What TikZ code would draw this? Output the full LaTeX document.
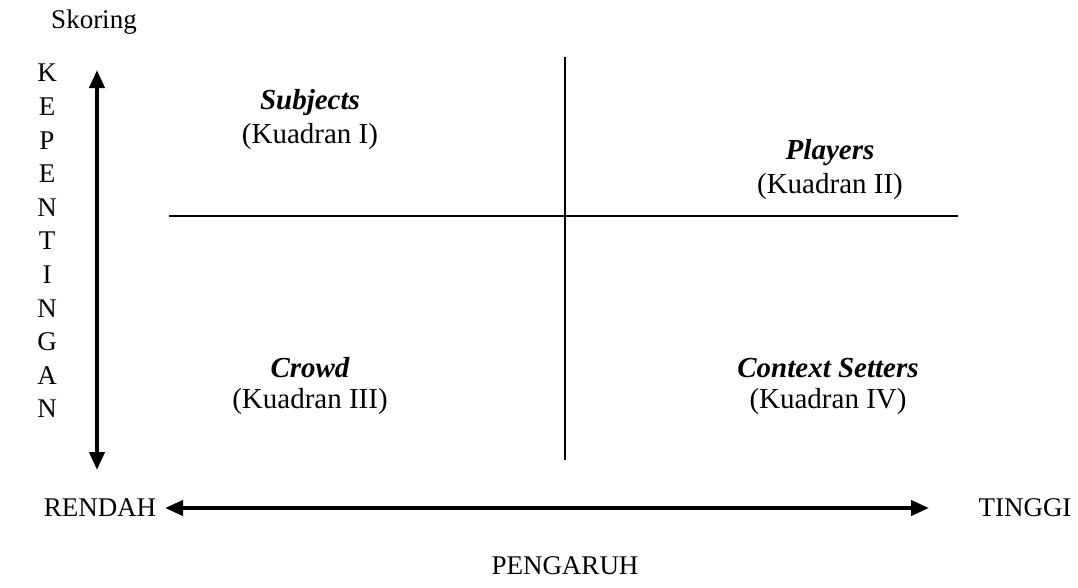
\documentclass[tikz,border=0pt]{standalone}
\usepackage{fontspec}
\setmainfont{Liberation Serif}
\usetikzlibrary{arrows.meta}
\begin{document}
\begin{tikzpicture}[x=1pt,y=-1pt,
  lbl/.style={font=\fontsize{27}{30}\selectfont, inner sep=0pt, anchor=center},
  qlbl/.style={font=\fontsize{29}{32}\selectfont, inner sep=0pt, anchor=center},
  ttl/.style={font=\fontsize{29}{32}\selectfont\bfseries\itshape, inner sep=0pt, anchor=center},
  axis/.style={line width=4pt, {Triangle[length=18pt,width=15pt]}-{Triangle[length=18pt,width=15pt]}},
  divider/.style={line width=1.5pt}]
\useasboundingbox (0,0) rectangle (1078,587);
% labels
\node[lbl] (skor) at (94,22) {Skoring};
\foreach \c [count=\i from 0] in {K,E,P,E,N,T,I,N,G,A,N}{
  \node[lbl] (v\i) at (47,{73+\i*33.6}) {\c};
}
\node[lbl] (rendah) at (100,508) {RENDAH};
\node[lbl] (tinggi) at (1025,508) {TINGGI};
\node[lbl] (pengaruh) at (565,566) {PENGARUH};
% axes
\coordinate (vt) at (97,70);
\coordinate (vb) at (97,470);
\coordinate (hl) at (165,508);
\coordinate (hr) at (929,508);
\draw[axis] (vb) -- (vt);
\draw[axis] (hl) -- (hr);
% dividers
\coordinate (mt) at (565,57);
\coordinate (mb) at (565,460);
\coordinate (ml) at (169,216);
\coordinate (mr) at (958,216);
\draw[divider] (mt) -- (mb);
\draw[divider] (ml) -- (mr);
% quadrants
\node[ttl] (q1t) at (310,103) {Subjects};
\node[qlbl] (q1s) at (310,137) {(Kuadran I)};
\node[ttl] (q2t) at (830,153) {Players};
\node[qlbl] (q2s) at (830,187) {(Kuadran II)};
\node[ttl] (q3t) at (310,368) {Crowd};
\node[qlbl] (q3s) at (310,402) {(Kuadran III)};
\node[ttl] (q4t) at (828,368) {Context Setters};
\node[qlbl] (q4s) at (828,402) {(Kuadran IV)};
\end{tikzpicture}
\end{document}
